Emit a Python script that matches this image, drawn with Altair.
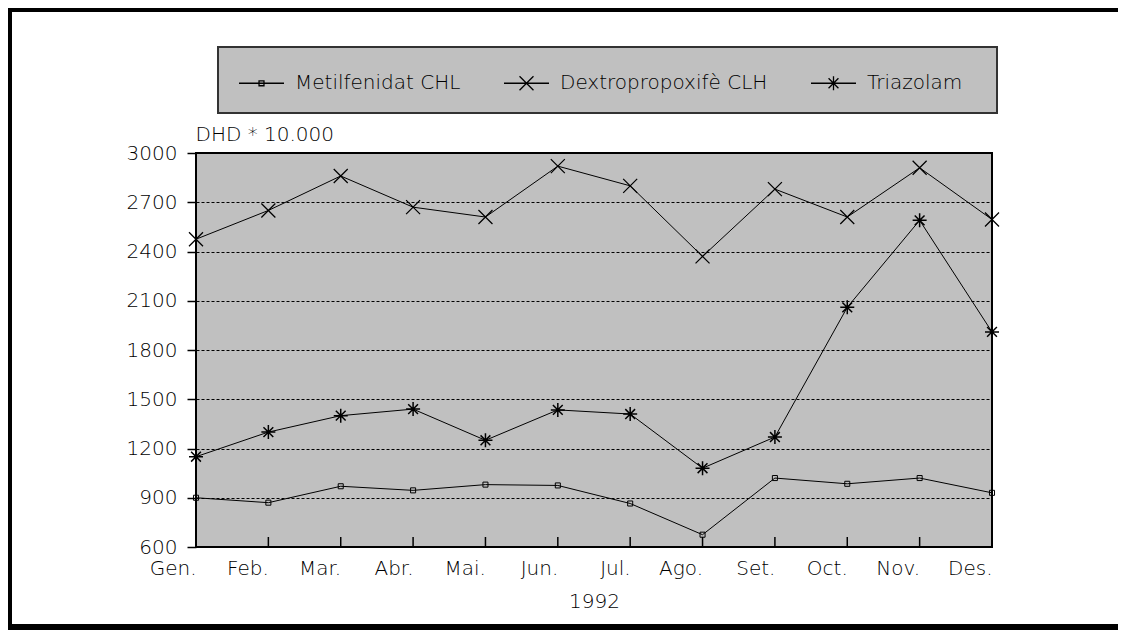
import altair as alt
import pandas as pd

months = ["Gen.", "Feb.", "Mar.", "Abr.", "Mai.", "Jun.", "Jul.", "Ago.", "Set.", "Oct.", "Nov.", "Des."]
series_names = ["Metilfenidat CHL", "Dextropropoxifè CLH", "Triazolam"]
metilfenidat = [900, 870, 970, 945, 980, 975, 865, 675, 1020, 985, 1020, 930]
dextropropoxife = [2475, 2650, 2860, 2670, 2610, 2920, 2800, 2370, 2780, 2610, 2910, 2595]
triazolam = [1150, 1300, 1400, 1440, 1250, 1435, 1410, 1080, 1270, 2060, 2590, 1910]
y_ticks = [600, 900, 1200, 1500, 1800, 2100, 2400, 2700, 3000]

rows = []
for name, vals in zip(series_names, [metilfenidat, dextropropoxife, triazolam]):
    for m, v in zip(months, vals):
        rows.append({"mes": m, "serie": name, "valor": v})
df = pd.DataFrame(rows)

FONT = "DejaVu Sans"
FW = 300
W, H = 796, 394
PAD = {"left": 188, "top": 145, "right": 126, "bottom": 83}

# marker paths for the plot (size 196 -> half width 7px)
plot_paths = [
    "M-0.36,-0.36H0.36V0.36H-0.36Z",
    "M-1,-1L1,1M-1,1L1,-1",
    "M-1,0H1M0,-1V1M-0.7,-0.7L0.7,0.7M-0.7,0.7L0.7,-0.7",
]
# legend symbols: short line plus marker (size 2025 -> half width 22.5px)
legend_paths = [
    "M-1,0H1M-0.11,-0.11H0.11V0.11H-0.11Z",
    "M-1,0H1M-0.31,-0.31L0.31,0.31M-0.31,0.31L0.31,-0.31",
    "M-1,0H1M0,-0.31V0.31M-0.22,-0.22L0.22,0.22M-0.22,0.22L0.22,-0.22",
]

x_enc = alt.X(
    "mes:N",
    sort=months,
    scale=alt.Scale(type="point", padding=0),
    axis=alt.Axis(
        title="1992",
        labelAngle=0,
        ticks=False,
        domain=False,
        grid=False,
        labelPadding=27,
        labelBaseline="alphabetic",
        labelFont=FONT,
        labelFontSize=20,
        labelFontWeight=FW,
        labelColor="black",
        titleFont=FONT,
        titleFontSize=20,
        titleFontWeight=FW,
        titleColor="black",
        titleX=W / 2,
        titleY=60,
        titleAlign="center",
        titleBaseline="alphabetic",
    ),
)
y_enc = alt.Y(
    "valor:Q",
    scale=alt.Scale(domain=[600, 3000], nice=False, zero=False),
    axis=alt.Axis(
        title="DHD * 10.000",
        values=y_ticks,
        format="d",
        domain=False,
        grid=True,
        gridColor="black",
        gridDash=[3, 2],
        gridWidth=1,
        ticks=True,
        tickSize=9,
        tickWidth=1.5,
        tickColor="black",
        labelPadding=10,
        labelFont=FONT,
        labelFontSize=20,
        labelFontWeight=FW,
        labelColor="black",
        titleFont=FONT,
        titleFontSize=20,
        titleFontWeight=FW,
        titleColor="black",
        titleAngle=0,
        titleX=-1,
        titleY=-13,
        titleAlign="left",
        titleBaseline="alphabetic",
    ),
)

one = pd.DataFrame({"k": [0]})
TOT_W = PAD["left"] + W + PAD["right"]
TOT_H = PAD["top"] + H + PAD["bottom"]
L0, T0 = -PAD["left"], -PAD["top"]

frame_left = alt.Chart(one).mark_rect(color="black").encode(
    x=alt.value(L0), x2=alt.value(L0 + 4), y=alt.value(T0), y2=alt.value(T0 + TOT_H)
)
frame_top = alt.Chart(one).mark_rect(color="black").encode(
    x=alt.value(L0), x2=alt.value(L0 + TOT_W), y=alt.value(T0), y2=alt.value(T0 + 4)
)
frame_bottom = alt.Chart(one).mark_rect(color="black").encode(
    x=alt.value(L0), x2=alt.value(L0 + TOT_W), y=alt.value(T0 + TOT_H - 6), y2=alt.value(T0 + TOT_H)
)
legend_box = alt.Chart(one).mark_rect(fill="#c0c0c0", stroke="#333333", strokeWidth=2).encode(
    x=alt.value(22), x2=alt.value(801), y=alt.value(-106), y2=alt.value(-40)
)

ticks = alt.Chart(pd.DataFrame({"mes": months})).mark_rule(color="black", strokeWidth=1.5).encode(
    x=alt.X("mes:N", sort=months), y=alt.value(H), y2=alt.value(H - 10)
)

lines = alt.Chart(df).mark_line(color="black", strokeWidth=1).encode(
    x=x_enc, y=y_enc, detail="serie:N"
)

points = alt.Chart(df).mark_point(color="black", filled=False, size=196, opacity=1).encode(
    x=alt.X("mes:N", sort=months),
    y="valor:Q",
    shape=alt.Shape("serie:N", scale=alt.Scale(domain=series_names, range=plot_paths), legend=None),
    strokeWidth=alt.StrokeWidth("serie:N", scale=alt.Scale(domain=series_names, range=[1, 1.5, 2.2]), legend=None),
)

legend_layer = alt.Chart(df).mark_point(color="black", filled=False, opacity=0).encode(
    x=alt.X("mes:N", sort=months),
    y="valor:Q",
    shape=alt.Shape(
        "serie:N",
        scale=alt.Scale(domain=series_names, range=legend_paths),
        legend=alt.Legend(
            title=None,
            orient="none",
            legendX=42,
            legendY=-93.5,
            direction="horizontal",
            symbolSize=2025,
            symbolStrokeWidth=1.3,
            symbolStrokeColor="black",
            symbolFillColor="transparent",
            symbolOpacity=1,
            labelFont=FONT,
            labelFontSize=20,
            labelFontWeight=FW,
            labelColor="black",
            labelOffset=10,
            labelLimit=400,
            columnPadding=40,
            padding=0,
        ),
    ),
)

chart = (
    alt.layer(frame_left, frame_top, frame_bottom, legend_box, ticks, lines, points, legend_layer)
    .resolve_scale(shape="independent", strokeWidth="independent")
    .properties(width=W, height=H, padding=PAD, autosize=alt.AutoSizeParams(type="none"), background="white")
    .configure_view(fill="#c0c0c0", stroke="black", strokeWidth=2)
)

chart.save("out.html", embed_options={"renderer": "svg", "actions": False})
